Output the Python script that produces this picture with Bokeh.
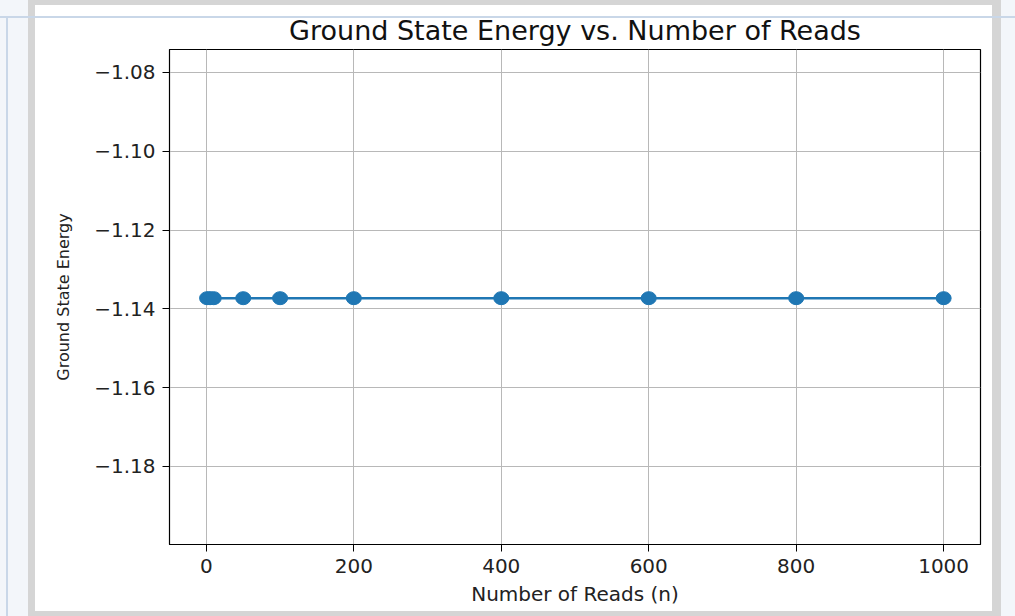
from bokeh.plotting import figure
from bokeh.models import Range1d, FixedTicker
from bokeh.embed import file_html
from bokeh.resources import INLINE

# ---- data ----
reads = [1, 5, 10, 50, 100, 200, 400, 600, 800, 1000]
energy = [-1.1373, -1.1373, -1.1373, -1.1373, -1.1373,
          -1.1373, -1.1373, -1.1373, -1.1373, -1.1373]
x_ticks = [0, 200, 400, 600, 800, 1000]
x_tick_labels = ["0", "200", "400", "600", "800", "1000"]
y_ticks = [-1.18, -1.16, -1.14, -1.12, -1.10, -1.08]
y_tick_labels = ["\u22121.18", "\u22121.16", "\u22121.14", "\u22121.12", "\u22121.10", "\u22121.08"]

FONT = "DejaVu Sans"

p = figure(width=1015, height=616, output_backend="svg", toolbar_location=None,
           x_range=Range1d(-50, 1050), y_range=Range1d(-1.1998, -1.0742),
           min_border_left=169, min_border_right=35, min_border_top=49, min_border_bottom=72,
           border_fill_color=None, background_fill_color="white",
           title="Ground State Energy vs. Number of Reads")

# page look around the picture (screenshot frame), painted as the host background
p.styles = {
    "background-color": "#f3f6fa",
    "background-image": ("linear-gradient(#c9d7e8, #c9d7e8), linear-gradient(#c9d7e8, #c9d7e8), "
                         "linear-gradient(#ffffff, #ffffff), linear-gradient(#d5d5d5, #d5d5d5)"),
    "background-size": "1015px 2px, 2px 599px, 957px 606px, 973px 616px",
    "background-position": "0px 16px, 6px 17px, 35px 5px, 28px 0px",
    "background-repeat": "no-repeat",
}

p.outline_line_color = "black"
p.outline_line_width = 1.2

# title
p.title.align = "center"
p.title.text_font = FONT
p.title.text_font_size = "27px"
p.title.text_font_style = "normal"
p.title.text_color = "#111111"
p.title.standoff = 7

# axes
p.xaxis.ticker = FixedTicker(ticks=x_ticks)
p.yaxis.ticker = FixedTicker(ticks=y_ticks)
p.xaxis.major_label_overrides = dict(zip(x_ticks, x_tick_labels))
p.yaxis.major_label_overrides = dict(zip(y_ticks, y_tick_labels))
p.xaxis.axis_label = "Number of Reads (n)"
p.yaxis.axis_label = "Ground State Energy"
for ax in (p.xaxis[0], p.yaxis[0]):
    ax.axis_label_text_font = FONT
    ax.axis_label_text_font_style = "normal"
    ax.axis_label_text_color = "#222222"
    ax.major_label_text_font = FONT
    ax.major_label_text_font_size = "20px"
    ax.major_label_text_color = "#222222"
    ax.major_tick_in = 0
    ax.major_tick_out = 7
    ax.minor_tick_line_color = None
    ax.major_tick_line_color = "black"
    ax.axis_line_color = "black"
    ax.major_label_standoff = 7
p.xaxis.axis_label_text_font_size = "20px"
p.yaxis.axis_label_text_font_size = "16px"
p.yaxis.axis_label_standoff = 18
p.xaxis.axis_label_standoff = 6

p.grid.grid_line_color = "#b8b8b8"
p.grid.grid_line_width = 1

# data
p.line(reads, energy, line_color="#1f77b4", line_width=2.4)
p.ellipse(reads, energy, width=15, height=13, width_units="screen", height_units="screen",
          fill_color="#1f77b4", line_color="#1f77b4")

open("out.html", "w").write(file_html(p, INLINE))
